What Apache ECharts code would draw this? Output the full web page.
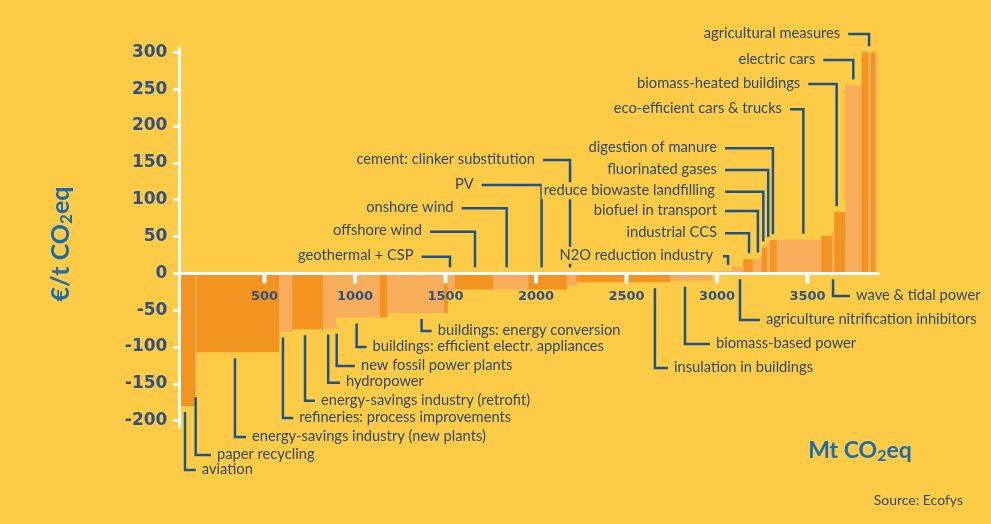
<!DOCTYPE html>
<html><head><meta charset="utf-8">
<script src="https://cdn.jsdelivr.net/npm/echarts@6/dist/echarts.min.js"></script>
<style>html,body{margin:0;padding:0;background:#FDCB46;}#c{width:991px;height:524px;}</style>
</head><body><div id="c"></div>
<script>
// ---------- DATA ----------
const axisStart = 30; // Mt CO2eq where the cost axis sits
const barNames = ['aviation','paper recycling','energy-savings industry (new plants)','refineries: process improvements',
 'energy-savings industry (retrofit)','hydropower','new fossil power plants','buildings: efficient electr. appliances','(unlabelled a)',
 'buildings: energy conversion','(unlabelled b)','geothermal + CSP','offshore wind','onshore wind','PV','cement: clinker substitution',
 'insulation in buildings','biomass-based power','N2O reduction industry','agriculture nitrification inhibitors','industrial CCS',
 'biofuel in transport','reduce biowaste landfilling','fluorinated gases','digestion of manure','eco-efficient cars & trucks',
 '(unlabelled c)','wave & tidal power','biomass-heated buildings','electric cars','agricultural measures','(unlabelled d)','(unlabelled e)','(unlabelled f)'];
const barWidths = [86,8,456,74,171,55,15,243,40,314,19,41,212,194,212,55,515,231,112,62,52,50,28,18,37,248,56,14,59,92,37,15,22,11];
const barCosts  = [-180,-160,-107,-79,-76,-75,-74,-60,-60,-54,-54,-25,-22,-22,-22,-17,-12,-10,3,9,19,20,35,41,45,45.5,51,56,83,255,300,298,300,296];
const xTicks = [500,1000,1500,2000,2500,3000,3500];
const yTicks = [-200,-150,-100,-50,0,50,100,150,200,250,300];

// ---------- STYLE / LAYOUT ----------
const BG='#FDCB46', DARK='#F39320', LIGHT='#F8AD5B', LINE='#1D5587', TXT='#2E4A6E', AX='#2F5283', TITLE='#1C6AB0';
const barTones = [0,1,0,1,0,1,1,1,0,1,0,1,0,1,0,1,0,1,1,1,0,1,0,1,0,1,0,1,0,1,0,1,0,1];
// leader labels: side, line x (Mt), label y (EUR/t), elbow x (Mt)
const leaderLabels = [
 {bar:'aviation',side:'down',lineX:61,labelY:-267,elbowX:121},
 {bar:'paper recycling',side:'down',lineX:120,labelY:-246.6,elbowX:204},
 {bar:'energy-savings industry (new plants)',side:'down',lineX:337,labelY:-222.2,elbowX:398},
 {bar:'refineries: process improvements',side:'down',lineX:602,labelY:-196.4,elbowX:659},
 {bar:'energy-savings industry (retrofit)',side:'down',lineX:724,labelY:-173,elbowX:779},
 {bar:'hydropower',side:'down',lineX:852,labelY:-148.5,elbowX:917},
 {bar:'new fossil power plants',side:'down',lineX:899,labelY:-125.8,elbowX:1000},
 {bar:'buildings: efficient electr. appliances',side:'down',lineX:1009,labelY:-100,elbowX:1064},
 {bar:'buildings: energy conversion',side:'down',lineX:1368,labelY:-78.3,elbowX:1424},
 {bar:'insulation in buildings',side:'down',lineX:2657,labelY:-128.5,elbowX:2729},
 {bar:'biomass-based power',side:'down',lineX:2823,labelY:-96,elbowX:2961},
 {bar:'agriculture nitrification inhibitors',side:'down',lineX:3127,labelY:-63.4,elbowX:3237},
 {bar:'wave & tidal power',side:'down',lineX:3641,labelY:-30.8,elbowX:3735},
 {bar:'geothermal + CSP',side:'up',lineX:1525,labelY:22.5,elbowX:1368},
 {bar:'offshore wind',side:'up',lineX:1663,labelY:56.5,elbowX:1414},
 {bar:'onshore wind',side:'up',lineX:1838,labelY:88.2,elbowX:1589},
 {bar:'PV',side:'up',lineX:2031,labelY:119.9,elbowX:1700},
 {bar:'cement: clinker substitution',side:'up',lineX:2188,labelY:153.8,elbowX:2039},
 {bar:'reduce biowaste landfilling',side:'up',lineX:3256,labelY:110.8,elbowX:3044,mask:true},
 {bar:'N2O reduction industry',side:'up',lineX:3061,labelY:23,elbowX:3033,mask:true},
 {bar:'industrial CCS',side:'up',lineX:3177,labelY:54.3,elbowX:3044},
 {bar:'biofuel in transport',side:'up',lineX:3226,labelY:84.6,elbowX:3044},
 {bar:'fluorinated gases',side:'up',lineX:3283,labelY:140.2,elbowX:3044},
 {bar:'digestion of manure',side:'up',lineX:3309,labelY:169.7,elbowX:3044},
 {bar:'eco-efficient cars & trucks',side:'up',lineX:3477,labelY:222.6,elbowX:3403},
 {bar:'biomass-heated buildings',side:'up',lineX:3661,labelY:257,elbowX:3504},
 {bar:'electric cars',side:'up',lineX:3753,labelY:289.5,elbowX:3587},
 {bar:'agricultural measures',side:'up',lineX:3840,labelY:324.8,elbowX:3725}
];

// build bar table
const barData = [];
let cum = axisStart;
barWidths.forEach((w,i)=>{ barData.push([cum, cum+w, barCosts[i], barTones[i]]); cum += w; });

const TONES=[DARK,LIGHT];
function renderBar(params, api){
  const a = api.coord([api.value(0),0]), b = api.coord([api.value(1),api.value(2)]);
  return {type:'rect', shape:{x:a[0], y:Math.min(a[1],b[1]), width:b[0]-a[0]+0.4, height:Math.abs(b[1]-a[1])},
    style:{fill:TONES[api.value(3)]}};
}
function renderLeader(params, api){
  const L = leaderLabels[params.dataIndex];
  const v = barCosts[barNames.indexOf(L.bar)];
  const up = L.side==='up';
  const base = api.coord([L.lineX, up ? Math.max(v,0) : Math.min(v,0)]);
  const tipY = up ? base[1]-6 : base[1]+6;
  const lab = api.coord([L.elbowX, L.labelY]);
  return {type:'group', children:[
    {type:'polyline', z2:1, shape:{points:[[lab[0],lab[1]],[base[0],lab[1]],[base[0],tipY]]},
      style:{stroke:LINE, lineWidth:2.5, fill:null}},
    {type:'text', z2:10, style:{text:L.bar, x: up ? lab[0]-8 : lab[0]+6, y: lab[1]-1,
      align: up?'right':'left', verticalAlign:'middle', fill:TXT, font:'14.7px Lato',
      backgroundColor: L.mask ? BG : 'transparent', padding: L.mask ? [1,2,1,2] : 0}}
  ]};
}
function renderXTick(params, api){
  const p = api.coord([api.value(0), 0]);
  return {type:'group', children:[
    {type:'rect', shape:{x:p[0]-2, y:p[1]+1, width:4, height:9}, style:{fill:'#fff'}},
    {type:'text', style:{text:String(api.value(0)), x:p[0], y:p[1]+23, align:'center', verticalAlign:'middle',
      fill:AX, font:'bold 13px "DejaVu Sans"'}}
  ]};
}

const chart = echarts.init(document.getElementById('c'), null, {renderer:'canvas'});
chart.setOption({
  backgroundColor: BG,
  animation:false,
  grid:{left:179.4, right:112.9, top:48, bottom:97},
  xAxis:{type:'value', min:axisStart, max:3890, z:10,
    axisLine:{show:true, onZero:true, lineStyle:{color:'#fff', width:3}},
    axisTick:{show:false}, axisLabel:{show:false}, splitLine:{show:false}},
  yAxis:{type:'value', min:-208.6, max:305.8, z:10,
    axisLine:{show:true, onZero:false, lineStyle:{color:'#fff', width:3}},
    axisTick:{show:true, customValues:yTicks, length:6, lineStyle:{color:'#fff', width:3}},
    axisLabel:{customValues:yTicks, color:AX, fontFamily:'DejaVu Sans', fontWeight:'bold', fontSize:17, margin:12},
    splitLine:{show:false}},
  series:[
    {type:'custom', z:2, renderItem:renderBar, data:barData, encode:{x:[0,1], y:2}},
    {type:'custom', z:11, renderItem:renderXTick, data:xTicks.map(t=>[t,0]), encode:{x:0,y:1}},
    {type:'custom', z:5, renderItem:renderLeader, data:leaderLabels.map((d,i)=>[d.lineX, d.labelY]), encode:{x:0,y:1}}
  ],
  graphic:[
    {type:'text', x:61, y:244, rotation:Math.PI/2, style:{text:'{a|€/t CO}{s|2}{a|eq}', align:'center', verticalAlign:'middle',
      rich:{a:{fontFamily:'Lato', fontWeight:'bold', fontSize:25, fill:TITLE, color:TITLE, lineHeight:28},
            s:{fontFamily:'Lato', fontWeight:'bold', fontSize:17, fill:TITLE, color:TITLE, lineHeight:28, verticalAlign:'bottom', padding:[7,0,0,0]}}}},
    {type:'text', x:860, y:451, style:{text:'{a|Mt CO}{s|2}{a|eq}', align:'center', verticalAlign:'middle',
      rich:{a:{fontFamily:'Lato', fontWeight:'bold', fontSize:23, fill:TITLE, color:TITLE, lineHeight:26},
            s:{fontFamily:'Lato', fontWeight:'bold', fontSize:16, fill:TITLE, color:TITLE, lineHeight:26, verticalAlign:'bottom', padding:[7,0,0,0]}}}},
    {type:'text', x:963, y:500, style:{text:'Source: Ecofys', align:'right', verticalAlign:'middle', font:'14px Lato', fill:TXT}}
  ]
});
</script></body></html>
